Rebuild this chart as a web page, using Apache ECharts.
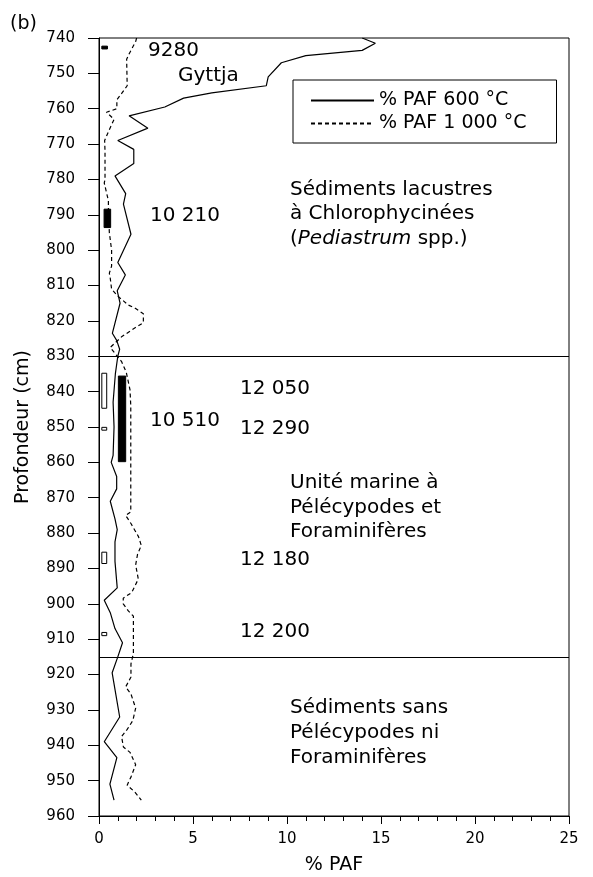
<!DOCTYPE html>
<html>
<head>
<meta charset="utf-8">
<script src="https://cdn.jsdelivr.net/npm/echarts@6/dist/echarts.min.js"></script>
<style>
html, body { margin: 0; padding: 0; background: #fff; }
#chart { width: 593px; height: 877px; }
</style>
</head>
<body>
<div id="chart"></div>
<script>
// profondeur (cm) et % PAF
var depth600 = [740, 741.5, 743.5, 745, 747, 751, 753.5, 755.5, 757, 759.5, 762, 765.5, 769, 771.5, 775.5, 779, 784, 787, 795.5, 803.5, 807, 811.5, 815, 823.5, 825.5, 828, 830, 835, 843, 850, 858, 860, 864, 867.5, 871, 876, 879, 882.5, 888, 895.5, 899, 902.5, 907, 911, 915, 919.5, 932, 939, 943.5, 951, 955.5];
var paf600 = [14.0, 14.7, 14.0, 11.0, 9.7, 9.0, 8.9, 6.0, 4.5, 3.5, 1.6, 2.6, 1.0, 1.85, 1.85, 0.85, 1.42, 1.3, 1.7, 1.0, 1.4, 0.97, 1.12, 0.71, 0.94, 1.1, 1.0, 0.87, 0.75, 0.8, 0.75, 0.65, 0.94, 0.94, 0.6, 0.85, 0.97, 0.85, 0.85, 0.97, 0.28, 0.6, 0.85, 1.25, 1.0, 0.7, 1.1, 0.28, 0.95, 0.58, 0.8];

var depth1000 = [740, 741, 744.5, 746, 753.5, 757.5, 760, 761, 763, 766.5, 769, 772, 780, 781, 786, 789, 795, 800, 804.5, 806.5, 808, 811, 813, 815.5, 816.5, 818, 820.5, 822, 824.5, 827.5, 831.5, 834.5, 839.5, 844, 874, 875, 877.3, 881, 883.5, 886, 889, 893, 896.8, 898.4, 900, 902, 903.5, 914, 917, 920.7, 923.5, 925.5, 929.5, 933, 935.5, 937.5, 940.5, 942, 945.5, 949, 950, 951.3, 953.2, 955.5];
var paf1000 = [2.0, 1.95, 1.6, 1.47, 1.5, 0.95, 0.95, 0.4, 0.8, 0.5, 0.3, 0.32, 0.32, 0.28, 0.5, 0.5, 0.55, 0.67, 0.67, 0.55, 0.6, 0.67, 1.0, 1.56, 1.95, 2.36, 2.36, 1.9, 1.2, 0.6, 1.2, 1.45, 1.65, 1.69, 1.69, 1.42, 1.7, 2.1, 2.25, 2.05, 1.95, 2.09, 1.74, 1.29, 1.29, 1.56, 1.83, 1.83, 1.7, 1.7, 1.42, 1.7, 1.95, 1.8, 1.5, 1.2, 1.3, 1.65, 1.95, 1.7, 1.6, 1.5, 1.9, 2.25];

// barres des datations (rectangles pres de l'axe)
var barXStart = [0.15, 0.27, 0.15, 0.15, 1.03, 0.15, 0.15];
var barXEnd = [0.45, 0.62, 0.41, 0.41, 1.42, 0.41, 0.41];
var barTop = [742.3, 788.4, 834.8, 850.1, 835.6, 885.4, 908.1];
var barBottom = [743.1, 793.6, 844.7, 850.9, 859.8, 888.6, 909.0];
var barFilled = [1, 1, 0, 0, 1, 0, 0];

var limits = [830, 915];
var seriesNames = ['% PAF 600 °C', '% PAF 1 000 °C'];

// textes de la figure
var ageLabels = ['9280', '10 210', '10 510', '12 050', '12 290', '12 180', '12 200'];
var ageX = [148, 150, 150, 240, 240, 240, 240];
var ageY = [51, 216, 421, 389, 429, 560, 632];
var unitLines = ['Sédiments lacustres', 'à Chlorophycinées', '({i|Pediastrum} spp.)',
  'Unité marine à', 'Pélécypodes et', 'Foraminifères',
  'Sédiments sans', 'Pélécypodes ni', 'Foraminifères'];
var unitY = [190, 214, 239, 483, 508, 532, 708, 733, 758];

var FONT = 'DejaVu Sans';

function pairs(xs, ys) {
  var out = [];
  for (var i = 0; i < xs.length; i++) out.push([xs[i], ys[i]]);
  return out;
}

var barData = [];
for (var i = 0; i < barXStart.length; i++) {
  barData.push([barXStart[i], barXEnd[i], barTop[i], barBottom[i], barFilled[i]]);
}

var graphics = [];
graphics.push({type: 'text', x: 10, y: 24, style: {text: '(b)', fontFamily: FONT, fontSize: 19, fill: '#000', verticalAlign: 'middle'}});
graphics.push({type: 'text', x: 178, y: 76, style: {text: 'Gyttja', fontFamily: FONT, fontSize: 20, fill: '#000', verticalAlign: 'middle'}});
for (var i = 0; i < ageLabels.length; i++) {
  graphics.push({type: 'text', x: ageX[i], y: ageY[i], style: {text: ageLabels[i], fontFamily: FONT, fontSize: 20, fill: '#000', verticalAlign: 'middle'}});
}
for (var i = 0; i < unitLines.length; i++) {
  graphics.push({type: 'text', x: 290, y: unitY[i], style: {
    text: unitLines[i], fontFamily: FONT, fontSize: 20, fill: '#000', verticalAlign: 'middle',
    rich: {i: {fontFamily: FONT, fontSize: 20, fontStyle: 'italic', fill: '#000'}}
  }});
}

var myChart = echarts.init(document.getElementById('chart'));
var option = {
  animation: false,
  backgroundColor: '#fff',
  grid: {
    left: 99, top: 38, right: 24, bottom: 61,
    show: true, borderColor: '#000', borderWidth: 1,
    outerBoundsMode: 'none'
  },
  legend: {
    orient: 'vertical', left: 293, top: 80,
    padding: [11, 30, 10, 17], itemGap: 4,
    itemWidth: 63, itemHeight: 14,
    borderColor: '#000', borderWidth: 1, backgroundColor: '#fff',
    itemStyle: {opacity: 0},
    textStyle: {fontFamily: FONT, fontSize: 19, color: '#000'},
    data: seriesNames
  },
  xAxis: {
    type: 'value', min: 0, max: 25, interval: 5,
    name: '% PAF', nameLocation: 'middle', nameGap: 40, nameMoveOverlap: false,
    nameTextStyle: {fontFamily: FONT, fontSize: 19, color: '#000'},
    axisLine: {show: true, lineStyle: {color: '#000', width: 1}},
    axisTick: {show: true, length: 8, lineStyle: {color: '#000'}},
    minorTick: {show: true, splitNumber: 5, length: 5, lineStyle: {color: '#000'}},
    axisLabel: {fontFamily: FONT, fontSize: 15, color: '#000', margin: 16},
    splitLine: {show: false}, minorSplitLine: {show: false}
  },
  yAxis: {
    type: 'value', inverse: true, min: 740, max: 960, interval: 10,
    name: 'Profondeur (cm)', nameLocation: 'middle', nameGap: 66, nameMoveOverlap: false,
    nameTextStyle: {fontFamily: FONT, fontSize: 19, color: '#000'},
    axisLine: {show: true, lineStyle: {color: '#000', width: 1}},
    axisTick: {show: true, length: 11, lineStyle: {color: '#000'}},
    axisLabel: {fontFamily: FONT, fontSize: 15, color: '#000', margin: 24},
    splitLine: {show: false}
  },
  series: [
    {
      name: seriesNames[0], type: 'line', symbol: 'none', silent: true,
      lineStyle: {color: '#000', width: 1.2, type: 'solid'},
      itemStyle: {color: '#000'},
      data: pairs(paf600, depth600),
      markLine: {
        silent: true, symbol: ['none', 'none'], label: {show: false},
        lineStyle: {color: '#000', width: 1, type: 'solid'},
        data: limits.map(function (d) { return {yAxis: d}; })
      }
    },
    {
      name: seriesNames[1], type: 'line', symbol: 'none', silent: true,
      lineStyle: {color: '#000', width: 1.2, type: [4, 3]},
      itemStyle: {color: '#000'},
      data: pairs(paf1000, depth1000)
    },
    {
      type: 'custom', silent: true,
      renderItem: function (params, api) {
        var p0 = api.coord([api.value(0), api.value(2)]);
        var p1 = api.coord([api.value(1), api.value(3)]);
        return {
          type: 'rect',
          shape: {x: p0[0], y: p0[1], width: p1[0] - p0[0], height: p1[1] - p0[1]},
          style: {fill: api.value(4) === 1 ? '#000' : '#fff', stroke: '#000', lineWidth: 1}
        };
      },
      encode: {x: [0, 1], y: [2, 3]},
      data: barData
    }
  ],
  graphic: graphics
};
myChart.setOption(option);
</script>
</body>
</html>
